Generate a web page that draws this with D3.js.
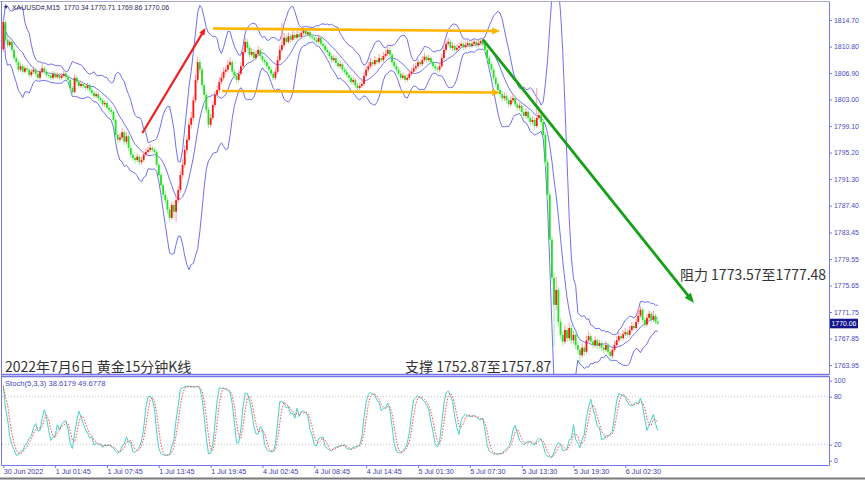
<!DOCTYPE html>
<html><head><meta charset="utf-8">
<script src="https://cdn.jsdelivr.net/npm/d3@7"></script>
<style>
html,body{margin:0;padding:0;background:#fff;}
svg{display:block;}
</style></head>
<body>
<svg id="c" width="865" height="480"></svg>
<script>
// ---------------- DATA (XAUUSD M15, one entry per bar) ----------------
const opens = [
1810.4,1814.4,1811.8,1811.0,1811.5,1810.3,1809.1,1808.5,1807.4,1807.9,
1807.1,1807.6,1807.4,1806.6,1807.1,1807.4,1806.8,1806.2,1807.1,1807.6,
1807.1,1806.6,1806.5,1806.2,1806.8,1806.3,1806.6,1806.2,1806.5,1806.8,
1806.3,1805.9,1804.7,1804.1,1806.2,1805.6,1805.0,1805.3,1805.0,1804.7,
1805.1,1804.4,1804.0,1803.5,1803.8,1803.2,1802.9,1802.3,1802.5,1801.8,
1801.5,1801.2,1800.0,1797.8,1797.1,1797.4,1798.2,1796.8,1797.6,1795.9,
1794.9,1794.4,1794.1,1794.6,1793.8,1794.1,1794.9,1795.3,1795.6,1795.9,
1795.6,1795.3,1793.4,1791.9,1790.4,1789.0,1788.2,1786.8,1785.6,1787.5,
1786.5,1788.2,1789.7,1791.9,1793.4,1795.6,1797.1,1799.3,1800.3,1802.9,
1805.9,1808.5,1807.4,1805.1,1803.7,1801.5,1799.3,1800.3,1802.2,1803.7,
1804.4,1805.6,1806.2,1807.1,1807.4,1808.1,1808.5,1807.1,1806.5,1805.9,
1806.8,1807.9,1810.0,1811.5,1810.6,1809.6,1810.0,1809.1,1809.7,1810.3,
1809.4,1808.8,1808.5,1807.9,1807.4,1806.8,1806.2,1807.1,1808.8,1810.3,
1811.0,1812.1,1811.5,1812.3,1811.8,1812.5,1812.1,1812.6,1812.2,1812.8,
1813.2,1812.6,1812.9,1812.3,1812.1,1811.8,1811.5,1812.1,1811.2,1810.9,
1810.3,1810.0,1809.4,1808.8,1809.1,1808.4,1807.9,1808.2,1807.4,1807.1,
1806.6,1806.2,1805.6,1805.9,1805.1,1804.7,1805.0,1805.3,1806.5,1807.4,
1807.9,1808.5,1808.2,1808.8,1808.5,1809.1,1808.8,1809.4,1809.7,1810.3,
1809.6,1808.5,1807.9,1807.4,1806.8,1806.2,1806.5,1805.9,1806.2,1806.8,
1807.1,1807.6,1807.9,1808.5,1808.2,1808.8,1809.3,1808.8,1809.1,1808.5,
1807.9,1807.6,1807.4,1807.9,1809.1,1810.3,1811.2,1811.5,1810.6,1810.9,
1810.3,1810.6,1810.9,1811.2,1810.7,1811.0,1811.3,1810.9,1811.2,1811.5,
1811.0,1811.3,1811.6,1811.2,1810.3,1809.1,1808.2,1807.4,1806.2,1805.3,
1804.4,1803.8,1803.2,1803.5,1802.9,1802.3,1802.9,1803.2,1802.3,1801.8,
1802.1,1801.2,1800.6,1801.2,1800.3,1799.7,1800.0,1799.1,1800.3,1800.7,
1799.7,1797.8,1793.8,1789.0,1782.4,1776.8,1772.8,1775.0,1770.3,1768.4,
1767.4,1769.1,1767.9,1769.4,1767.6,1768.4,1766.9,1766.2,1765.4,1766.5,
1765.9,1767.6,1768.2,1767.4,1766.9,1767.6,1766.8,1767.2,1766.5,1766.2,
1766.9,1765.9,1765.3,1766.2,1766.9,1767.6,1768.2,1767.9,1768.5,1768.8,
1768.4,1769.1,1769.7,1769.4,1770.3,1771.2,1772.1,1770.6,1769.9,1770.9,
1771.5,1770.6,1771.2,1770.34];
const highs = [
1814.7,1814.6,1812.3,1811.9,1811.8,1810.6,1809.5,1808.9,1808.4,1808.2,
1808.0,1808.1,1807.7,1807.5,1807.9,1807.7,1807.1,1807.5,1808.2,1807.9,
1807.4,1807.0,1806.9,1807.2,1807.1,1807.0,1806.9,1806.9,1807.3,1807.1,
1806.6,1806.2,1805.0,1806.7,1806.5,1805.9,1805.8,1805.6,1805.4,1805.5,
1805.4,1804.8,1804.3,1804.2,1804.1,1803.5,1803.2,1802.9,1802.8,1802.2,
1801.9,1801.5,1800.3,1798.3,1798.0,1798.8,1798.5,1798.3,1797.9,1796.3,
1795.3,1794.8,1795.1,1794.9,1794.6,1795.4,1795.8,1796.1,1796.5,1796.2,
1796.0,1795.6,1793.7,1792.3,1790.8,1789.6,1788.6,1787.2,1788.0,1788.0,
1788.7,1790.3,1792.5,1794.2,1796.3,1797.8,1800.1,1801.2,1803.6,1806.7,
1809.3,1809.0,1807.8,1805.6,1804.1,1801.9,1800.9,1802.8,1804.2,1805.0,
1806.2,1806.9,1807.7,1808.0,1808.8,1809.2,1808.9,1807.5,1806.9,1807.3,
1808.5,1810.7,1812.2,1811.9,1811.0,1810.6,1810.4,1810.2,1810.9,1810.7,
1809.8,1809.2,1808.9,1808.3,1807.8,1807.2,1807.6,1809.4,1811.0,1814.3,
1812.8,1812.6,1812.9,1812.7,1813.1,1812.9,1813.2,1813.0,1813.4,1813.8,
1813.5,1813.4,1813.2,1812.7,1812.5,1812.2,1812.6,1812.4,1811.6,1811.3,
1810.7,1810.4,1809.8,1809.6,1809.4,1808.8,1808.7,1808.5,1807.8,1807.5,
1807.0,1806.6,1806.4,1806.2,1805.5,1805.5,1805.9,1807.1,1808.0,1808.5,
1809.1,1808.9,1809.4,1809.2,1809.7,1809.5,1810.0,1810.3,1811.1,1810.7,
1809.9,1808.9,1808.3,1807.8,1807.2,1807.0,1806.8,1806.7,1807.3,1807.6,
1808.2,1808.4,1809.0,1808.9,1809.4,1809.9,1809.6,1809.6,1809.4,1808.9,
1808.3,1808.0,1808.4,1809.7,1810.9,1811.8,1812.1,1811.9,1811.4,1811.2,
1811.1,1811.4,1811.7,1811.5,1811.5,1811.8,1811.6,1811.7,1812.0,1811.8,
1811.8,1812.1,1811.9,1811.5,1810.6,1809.5,1808.6,1807.8,1806.6,1805.7,
1804.8,1804.2,1804.1,1803.9,1803.3,1803.5,1803.8,1803.6,1802.7,1802.6,
1802.5,1801.6,1801.8,1801.6,1800.7,1800.6,1800.4,1804.7,1802.0,1801.1,
1800.1,1798.2,1794.3,1789.5,1783.0,1777.5,1776.9,1775.5,1770.9,1768.9,
1769.8,1769.6,1770.2,1769.9,1769.0,1768.8,1767.4,1766.7,1767.1,1766.9,
1768.3,1768.9,1768.6,1767.8,1768.2,1768.0,1767.7,1767.6,1766.9,1767.5,
1767.3,1766.3,1766.8,1767.5,1768.2,1768.8,1768.6,1769.1,1769.4,1769.2,
1769.7,1770.3,1770.1,1770.9,1772.5,1772.6,1772.4,1771.0,1771.5,1772.0,
1771.8,1771.9,1771.5,1770.71];
const lows = [
1810.0,1811.4,1810.6,1810.7,1810.0,1808.8,1808.1,1807.0,1807.1,1806.7,
1806.8,1807.0,1806.2,1806.3,1806.8,1806.4,1805.8,1805.9,1806.8,1806.7,
1806.2,1806.1,1805.8,1805.9,1806.0,1806.0,1805.8,1805.9,1806.2,1806.0,
1805.5,1804.3,1803.6,1803.9,1805.2,1804.6,1804.7,1804.6,1804.3,1804.4,
1804.0,1803.6,1803.1,1803.2,1802.8,1802.5,1801.9,1801.9,1801.4,1801.0,
1800.8,1799.6,1797.3,1796.6,1796.7,1797.0,1796.3,1796.4,1795.4,1794.4,
1794.0,1793.6,1793.8,1793.3,1793.4,1793.8,1794.6,1795.0,1795.2,1795.2,
1794.9,1793.0,1791.4,1790.0,1788.5,1787.7,1786.2,1785.0,1785.3,1785.5,
1785.0,1787.8,1789.3,1791.4,1793.0,1795.0,1796.8,1798.7,1799.9,1802.5,
1805.4,1806.8,1804.6,1803.2,1801.0,1798.8,1798.9,1800.0,1801.8,1803.3,
1804.0,1805.2,1805.8,1806.7,1807.0,1807.8,1806.7,1806.0,1805.4,1805.6,
1806.5,1807.6,1809.7,1810.2,1809.2,1809.3,1808.7,1808.8,1809.4,1809.0,
1808.4,1808.1,1807.5,1807.0,1806.4,1805.8,1805.9,1806.8,1808.5,1810.0,
1810.7,1811.1,1811.2,1811.4,1811.5,1811.7,1811.8,1811.8,1811.9,1812.5,
1812.2,1812.3,1811.9,1811.7,1811.4,1811.1,1811.2,1810.8,1810.5,1809.9,
1809.6,1809.0,1808.4,1808.5,1808.0,1807.5,1807.6,1807.0,1806.7,1806.2,
1805.8,1805.2,1805.2,1804.7,1804.3,1804.4,1804.7,1805.0,1806.2,1807.0,
1807.6,1807.8,1807.9,1808.1,1808.2,1808.4,1808.5,1809.1,1809.4,1809.2,
1808.1,1807.5,1807.0,1806.4,1805.8,1805.9,1805.5,1805.6,1805.9,1806.5,
1806.8,1807.3,1807.6,1807.8,1807.9,1808.5,1808.4,1808.5,1808.1,1807.5,
1807.2,1806.9,1807.0,1807.6,1808.8,1809.9,1810.8,1810.2,1810.2,1809.9,
1810.0,1810.3,1810.6,1810.3,1810.4,1810.7,1810.5,1810.6,1810.9,1810.6,
1810.7,1811.0,1810.8,1809.9,1808.7,1807.8,1806.9,1805.8,1804.8,1803.9,
1803.3,1802.7,1802.8,1802.4,1801.8,1802.0,1802.5,1801.9,1801.3,1801.4,
1800.7,1800.1,1800.2,1799.8,1799.2,1799.3,1798.6,1798.8,1800.0,1799.2,
1797.3,1793.2,1788.3,1781.6,1775.9,1766.6,1772.0,1769.6,1767.8,1766.8,
1767.0,1767.3,1767.5,1767.0,1767.1,1766.3,1765.6,1764.3,1765.0,1765.3,
1765.6,1767.2,1766.9,1766.4,1766.5,1766.3,1766.4,1766.0,1765.7,1765.9,
1765.4,1764.4,1764.9,1765.9,1766.6,1767.3,1767.5,1767.6,1768.2,1768.0,
1768.1,1768.8,1769.0,1769.1,1770.0,1770.9,1770.2,1769.4,1769.6,1770.6,
1770.2,1770.3,1770.0,1769.86];
const closes = [
1814.4,1811.8,1811.0,1811.5,1810.3,1809.1,1808.5,1807.4,1807.9,1807.1,
1807.6,1807.4,1806.6,1807.1,1807.4,1806.8,1806.2,1807.1,1807.6,1807.1,
1806.6,1806.5,1806.2,1806.8,1806.3,1806.6,1806.2,1806.5,1806.8,1806.3,
1805.9,1804.7,1804.1,1806.2,1805.6,1805.0,1805.3,1805.0,1804.7,1805.1,
1804.4,1804.0,1803.5,1803.8,1803.2,1802.9,1802.3,1802.5,1801.8,1801.5,
1801.2,1800.0,1797.8,1797.1,1797.4,1798.2,1796.8,1797.6,1795.9,1794.9,
1794.4,1794.1,1794.6,1793.8,1794.1,1794.9,1795.3,1795.6,1795.9,1795.6,
1795.3,1793.4,1791.9,1790.4,1789.0,1788.2,1786.8,1785.6,1787.5,1786.5,
1788.2,1789.7,1791.9,1793.4,1795.6,1797.1,1799.3,1800.3,1802.9,1805.9,
1808.5,1807.4,1805.1,1803.7,1801.5,1799.3,1800.3,1802.2,1803.7,1804.4,
1805.6,1806.2,1807.1,1807.4,1808.1,1808.5,1807.1,1806.5,1805.9,1806.8,
1807.9,1810.0,1811.5,1810.6,1809.6,1810.0,1809.1,1809.7,1810.3,1809.4,
1808.8,1808.5,1807.9,1807.4,1806.8,1806.2,1807.1,1808.8,1810.3,1811.0,
1812.1,1811.5,1812.3,1811.8,1812.5,1812.1,1812.6,1812.2,1812.8,1813.2,
1812.6,1812.9,1812.3,1812.1,1811.8,1811.5,1812.1,1811.2,1810.9,1810.3,
1810.0,1809.4,1808.8,1809.1,1808.4,1807.9,1808.2,1807.4,1807.1,1806.6,
1806.2,1805.6,1805.9,1805.1,1804.7,1805.0,1805.3,1806.5,1807.4,1807.9,
1808.5,1808.2,1808.8,1808.5,1809.1,1808.8,1809.4,1809.7,1810.3,1809.6,
1808.5,1807.9,1807.4,1806.8,1806.2,1806.5,1805.9,1806.2,1806.8,1807.1,
1807.6,1807.9,1808.5,1808.2,1808.8,1809.3,1808.8,1809.1,1808.5,1807.9,
1807.6,1807.4,1807.9,1809.1,1810.3,1811.2,1811.5,1810.6,1810.9,1810.3,
1810.6,1810.9,1811.2,1810.7,1811.0,1811.3,1810.9,1811.2,1811.5,1811.0,
1811.3,1811.6,1811.2,1810.3,1809.1,1808.2,1807.4,1806.2,1805.3,1804.4,
1803.8,1803.2,1803.5,1802.9,1802.3,1802.9,1803.2,1802.3,1801.8,1802.1,
1801.2,1800.6,1801.2,1800.3,1799.7,1800.0,1799.1,1800.3,1800.7,1799.7,
1797.8,1793.8,1789.0,1782.4,1776.8,1772.8,1775.0,1770.3,1768.4,1767.4,
1769.1,1767.9,1769.4,1767.6,1768.4,1766.9,1766.2,1765.4,1766.5,1765.9,
1767.6,1768.2,1767.4,1766.9,1767.6,1766.8,1767.2,1766.5,1766.2,1766.9,
1765.9,1765.3,1766.2,1766.9,1767.6,1768.2,1767.9,1768.5,1768.8,1768.4,
1769.1,1769.7,1769.4,1770.3,1771.2,1772.1,1770.6,1769.9,1770.9,1771.5,
1770.6,1771.2,1770.3,1770.06];

const priceTicks = [1814.70,1810.80,1806.90,1803.00,1799.10,1795.20,1791.30,1787.40,1783.45,1779.55,1775.65,1771.75,1767.85,1763.95];
const timeTickBars = [0,24,48,72,96,120,144,168,192,216,240,264,288];
const timeLabels = ["30 Jun 2022","1 Jul 01:45","1 Jul 07:45","1 Jul 13:45","1 Jul 19:45","4 Jul 02:45","4 Jul 08:45","4 Jul 14:45","5 Jul 01:30","5 Jul 07:30","5 Jul 13:30","5 Jul 19:30","6 Jul 02:30"];
const stochTicks = [100,80,20,0];
const stochLevels = [80,20];
const lastPrice = 1770.06;
const headerText = "XAUUSD#,M15  1770.34 1770.71 1769.86 1770.06";
const stochText = "Stoch(5,3,3) 38.6179 49.6778";
// drawn trend arrows: [bar, price] -> [bar, price]
const redArrow = [[64.4,1798.08],[93.6,1813.52]];
const orangeTop = [[97.1,1813.45],[230.0,1813.08]];
const orangeBottom = [[101.3,1804.26],[230.0,1804.04]];
const greenArrow = [[222.0,1811.86],[319.8,1773.08]];
const notes = [
  {text:"2022年7月6日 黄金15分钟K线", bar:0.8, price:1763.0},
  {text:"支撑 1752.87至1757.87", bar:186.0, price:1763.0},
  {text:"阻力 1773.57至1777.48", bar:313.3, price:1776.4}
];

// ---------------- LAYOUT ----------------
const svg = d3.select("#c");
const axisX = 829, mainTop = 2, mainBottom = 374.5, stTop = 376.5, stBottom = 465;
const frameColor = "#7676e8", labelColor = "#4a4ac8";
const axisFont = "Liberation Sans, Arial, sans-serif";
const x = d3.scaleLinear().domain([0, 382.3]).range([3.3, 829]);
const y = d3.scaleLinear().domain([1762.49, 1817.35]).range([375, 2]);
const ys = d3.scaleLinear().domain([0, 100]).range([460.7, 380.7]);

svg.append("rect").attr("width",865).attr("height",480).attr("fill","#fff");
const defs = svg.append("defs");
defs.append("clipPath").attr("id","clipMain").append("rect")
  .attr("x",2).attr("y",mainTop).attr("width",axisX-2).attr("height",mainBottom-mainTop);
defs.append("clipPath").attr("id","clipSt").append("rect")
  .attr("x",2).attr("y",stTop).attr("width",axisX-2).attr("height",stBottom-stTop);

// ---------------- INDICATORS ----------------
const BB_PERIOD = 10, BB_DEV = 3;
const bbMid = [], bbUp = [], bbLo = [];
closes.forEach((c,i)=>{
  const w = closes.slice(Math.max(0,i-BB_PERIOD+1), i+1);
  const m = d3.mean(w);
  const sd = Math.sqrt(d3.mean(w, v => (v-m)*(v-m)));
  bbMid.push(m); bbUp.push(m+BB_DEV*sd); bbLo.push(m-BB_DEV*sd);
});
const K_P = 5, SLOW = 3, D_P = 3;
const num = [], den = [];
closes.forEach((c,i)=>{
  const s = Math.max(0,i-K_P+1);
  const ll = d3.min(lows.slice(s,i+1)), hh = d3.max(highs.slice(s,i+1));
  num.push(c-ll); den.push(hh-ll);
});
const kLine = num.map((n,i)=>{
  const s = Math.max(0,i-SLOW+1);
  const a = d3.sum(num.slice(s,i+1)), b = d3.sum(den.slice(s,i+1));
  return b>0 ? 100*a/b : 50;
});
const dLine = kLine.map((k,i)=> d3.mean(kLine.slice(Math.max(0,i-D_P+1), i+1)));

// ---------------- MAIN PANEL ----------------
const gMain = svg.append("g").attr("clip-path","url(#clipMain)");
const bbLine = d3.line().x((d,i)=>x(i)).y(d=>y(d));
[bbUp,bbMid,bbLo].forEach(arr=>{
  gMain.append("path").attr("d",bbLine(arr)).attr("fill","none")
    .attr("stroke","#6f6ff5").attr("stroke-width",1);
});

const gC = gMain.append("g");
closes.forEach((c,i)=>{
  const o = opens[i], up = c >= o;
  const cx = x(i);
  gC.append("line").attr("x1",cx).attr("x2",cx)
    .attr("y1",y(highs[i])).attr("y2",y(lows[i]))
    .attr("stroke", up ? "#ff9c9c" : "#9df29d").attr("stroke-width",1);
  const yt = y(Math.max(o,c)), yb = y(Math.min(o,c));
  gC.append("rect").attr("x",cx-0.9).attr("width",1.8)
    .attr("y",yt).attr("height",Math.max(1,yb-yt))
    .attr("fill", up ? "#ff1414" : "#1ee01e");
});

// arrows
function arrow(g, seg, color, w, hl, hw){
  const x1=x(seg[0][0]), y1=y(seg[0][1]), x2=x(seg[1][0]), y2=y(seg[1][1]);
  const a = Math.atan2(y2-y1, x2-x1);
  const bx = x2 - hl*Math.cos(a), by = y2 - hl*Math.sin(a);
  g.append("line").attr("x1",x1).attr("y1",y1).attr("x2",bx+0.5*Math.cos(a)).attr("y2",by+0.5*Math.sin(a))
    .attr("stroke",color).attr("stroke-width",w);
  const px = -Math.sin(a)*hw/2, py = Math.cos(a)*hw/2;
  g.append("polygon").attr("points",[[x2,y2],[bx+px,by+py],[bx-px,by-py]].map(p=>p.join(",")).join(" "))
    .attr("fill",color);
}
const gA = svg.append("g").attr("clip-path","url(#clipMain)");
arrow(gA, orangeTop, "#ffb400", 2.6, 8, 7);
arrow(gA, orangeBottom, "#ffb400", 2.6, 8, 7);
arrow(gA, redArrow, "#f01e1e", 2.2, 7, 6);
arrow(gA, greenArrow, "#16a016", 2.8, 10, 8);

// header
svg.append("path").attr("d","M4,6 L8,6 L6,9 Z").attr("fill","#2a2a5a");
svg.append("text").attr("x",12).attr("y",10).text(headerText)
  .attr("font-family",axisFont).attr("font-size",6.9)
  .attr("fill","#2a2a5a").style("white-space","pre");

// notes
notes.forEach(n=>{
  svg.append("text").attr("x",x(n.bar)).attr("y",y(n.price)).text(n.text)
    .attr("font-family","'Noto Sans CJK SC', 'Noto Sans', sans-serif")
    .attr("font-size",14).attr("fill","#333333");
});

// price axis
const ax = svg.append("g").attr("transform",`translate(${axisX},0)`)
  .call(d3.axisRight(y).tickValues(priceTicks).tickFormat(d3.format(".2f")).tickSize(3).tickSizeOuter(0).tickPadding(2));
ax.select(".domain").remove();
ax.selectAll("line").attr("stroke",frameColor);
ax.selectAll("text").attr("fill",labelColor).attr("font-family",axisFont).attr("font-size",6.9);

// last price box
const ly = y(lastPrice);
svg.append("rect").attr("x",830).attr("y",ly-4.8).attr("width",28).attr("height",9.6).attr("fill","#14148c");
svg.append("text").attr("x",831.5).attr("y",ly+2.5).text(lastPrice.toFixed(2))
  .attr("fill","#ffffff").attr("font-family",axisFont).attr("font-size",6.9);

// ---------------- STOCH PANEL ----------------
const gS = svg.append("g").attr("clip-path","url(#clipSt)");
stochLevels.forEach(l=>{
  gS.append("line").attr("x1",2).attr("x2",axisX).attr("y1",ys(l)).attr("y2",ys(l))
    .attr("stroke","#c4c4c4").attr("stroke-width",1).attr("stroke-dasharray","1,2");
});
const sLine = d3.line().x((d,i)=>x(i)).y(d=>ys(d));
gS.append("path").attr("d",sLine(kLine)).attr("fill","none").attr("stroke","#46d2c6").attr("stroke-width",1);
gS.append("path").attr("d",sLine(dLine)).attr("fill","none").attr("stroke","#ff4a4a").attr("stroke-width",1).attr("stroke-dasharray","1.5,1.5");

svg.append("text").attr("x",5).attr("y",386).text(stochText)
  .attr("fill","#4646c6").attr("font-family",axisFont).attr("font-size",7.6);

const as = svg.append("g").attr("transform",`translate(${axisX},0)`)
  .call(d3.axisRight(ys).tickValues(stochTicks).tickSize(3).tickSizeOuter(0).tickPadding(2));
as.select(".domain").remove();
as.selectAll("line").attr("stroke",frameColor);
as.selectAll("text").attr("fill",labelColor).attr("font-family",axisFont).attr("font-size",6.9);

// time axis
const at = svg.append("g").attr("transform",`translate(0,${stBottom})`)
  .call(d3.axisBottom(x).tickValues(timeTickBars).tickFormat((d,i)=>timeLabels[i]).tickSize(3).tickSizeOuter(0).tickPadding(1));
at.select(".domain").remove();
at.selectAll("line").attr("stroke",frameColor);
at.selectAll("text").attr("text-anchor","start").attr("x",0).attr("fill","#3c3cb0")
  .attr("font-family",axisFont).attr("font-size",7.2);

// ---------------- FRAMES ----------------
const fr = svg.append("g").attr("fill","none").attr("stroke",frameColor).attr("stroke-width",1);
fr.append("line").attr("x1",0).attr("x2",axisX).attr("y1",1.5).attr("y2",1.5).attr("stroke","#a8a8d8");
fr.append("line").attr("x1",1.5).attr("x2",1.5).attr("y1",1.5).attr("y2",stBottom);
fr.append("line").attr("x1",axisX+0.5).attr("x2",axisX+0.5).attr("y1",1.5).attr("y2",mainBottom);
fr.append("line").attr("x1",axisX+0.5).attr("x2",axisX+0.5).attr("y1",stTop).attr("y2",stBottom);
fr.append("line").attr("x1",1.5).attr("x2",axisX+0.5).attr("y1",mainBottom).attr("y2",mainBottom).attr("stroke-width",1.5);
fr.append("line").attr("x1",1.5).attr("x2",axisX+0.5).attr("y1",stTop).attr("y2",stTop).attr("stroke-width",1.5);
fr.append("line").attr("x1",1.5).attr("x2",axisX+0.5).attr("y1",stBottom+0.5).attr("y2",stBottom+0.5);
svg.append("line").attr("x1",0).attr("x2",865).attr("y1",478.5).attr("y2",478.5).attr("stroke","#7a7a7a").attr("stroke-width",2);
</script>
</body></html>
